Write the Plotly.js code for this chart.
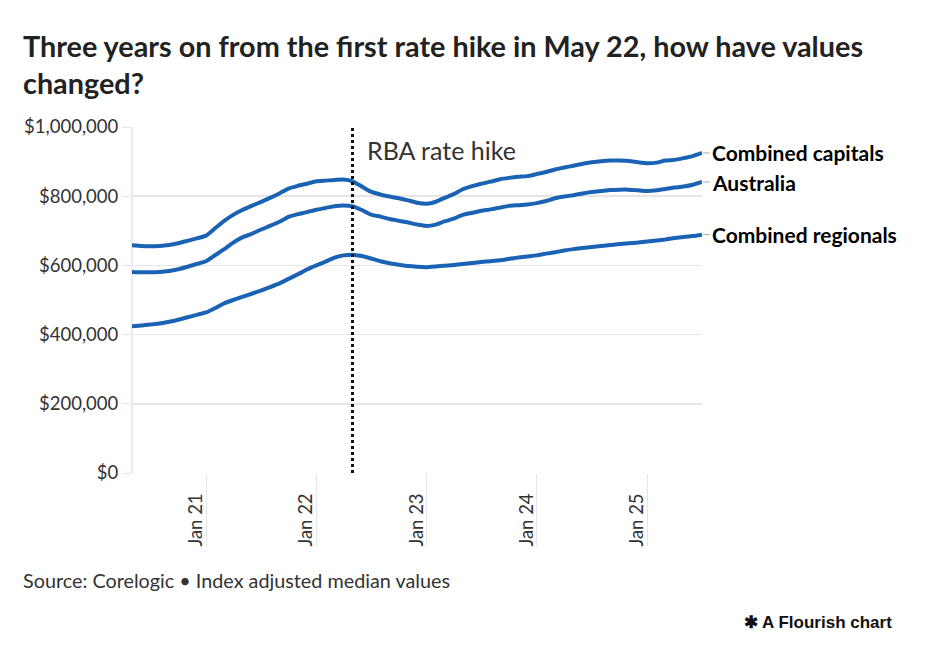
<!DOCTYPE html>
<html>
<head>
<meta charset="utf-8">
<script src="https://cdn.plot.ly/plotly-3.0.1.min.js"></script>
<style>
html,body{margin:0;padding:0;background:#fff;}
#chart{width:930px;height:646px;}
</style>
</head>
<body>
<div id="chart"></div>
<script>
// Monthly dates May 2020 – Jul 2025
const months = [
"2020-05-01","2020-06-01","2020-07-01","2020-08-01","2020-09-01","2020-10-01","2020-11-01","2020-12-01",
"2021-01-01","2021-02-01","2021-03-01","2021-04-01","2021-05-01","2021-06-01","2021-07-01","2021-08-01","2021-09-01","2021-10-01","2021-11-01","2021-12-01",
"2022-01-01","2022-02-01","2022-03-01","2022-04-01","2022-05-01","2022-06-01","2022-07-01","2022-08-01","2022-09-01","2022-10-01","2022-11-01","2022-12-01",
"2023-01-01","2023-02-01","2023-03-01","2023-04-01","2023-05-01","2023-06-01","2023-07-01","2023-08-01","2023-09-01","2023-10-01","2023-11-01","2023-12-01",
"2024-01-01","2024-02-01","2024-03-01","2024-04-01","2024-05-01","2024-06-01","2024-07-01","2024-08-01","2024-09-01","2024-10-01","2024-11-01","2024-12-01",
"2025-01-01","2025-02-01","2025-03-01","2025-04-01","2025-05-01","2025-06-01","2025-07-01"
];

// Values in $ thousands
const combinedCapitals = [
658,656,655,656,659,664,671,678,
686,708,728,746,760,772,783,795,808,822,830,836,
843,845,847,848,843,828,813,805,799,794,788,781,
778,784,795,806,820,829,836,842,849,853,856,858,
864,870,877,883,888,894,898,901,903,903,902,898,
895,897,903,905,910,916,925
];
const australia = [
581,580,580,581,584,589,596,604,
612,630,646,666,681,691,703,714,726,740,748,754,
761,766,771,773,771,760,747,741,734,729,724,718,
714,718,727,735,746,752,758,762,767,772,774,776,
780,786,794,799,803,808,812,815,818,819,819,817,
815,817,821,825,828,833,841
];
const combinedRegionals = [
424,426,429,432,437,443,450,457,
464,477,490,500,509,518,527,537,548,561,574,588,
600,611,622,629,631,627,620,612,606,602,598,596,
595,597,599,601,604,607,610,612,615,619,623,626,
629,634,638,643,647,650,653,656,659,662,664,666,
669,672,675,679,682,685,689
];

const seriesNames = ["Combined capitals","Australia","Combined regionals"];
const seriesValues = [combinedCapitals, australia, combinedRegionals];

const yTickVals = [0,200000,400000,600000,800000,1000000];
const yTickText = ["$0","$200,000","$400,000","$600,000","$800,000","$1,000,000"];
const xTickVals = ["2021-01-01","2022-01-01","2023-01-01","2024-01-01","2025-01-01"];
const xTickText = ["Jan 21","Jan 22","Jan 23","Jan 24","Jan 25"];

const rbaDate = "2022-05-01";
const rbaLabel = "RBA rate hike";

const FONT = "'Source Sans Pro', Lato, 'Noto Sans', sans-serif";
const LINE = "#1a62b4";

const traces = seriesValues.map((vals, i) => ({
  type: "scatter",
  mode: "lines",
  name: seriesNames[i],
  x: months,
  y: vals.map(v => v * 1000),
  line: {color: LINE, width: 4, shape: "spline", smoothing: 0.5},
  hoverinfo: "x+y",
  showlegend: false
}));

const lastIdx = months.length - 1;
const endLabels = seriesNames.map((n, i) => ({
  x: months[lastIdx],
  y: seriesValues[i][lastIdx] * 1000,
  xref: "x", yref: "y",
  text: "<b>" + n + "</b>",
  showarrow: true, arrowhead: 0, arrowwidth: 1, arrowcolor: "#aaaaaa",
  ax: 8, ay: 0, standoff: 1, startstandoff: 0,
  xanchor: "left", yanchor: "middle",
  font: {family: FONT, size: 21, color: "#000"}
}));

const plotW = 930 - 132 - 228, plotH = 646 - 127 - 173;

const layout = {
  width: 930, height: 646,
  paper_bgcolor: "#fff", plot_bgcolor: "#fff",
  margin: {l: 132, r: 228, t: 127, b: 173},
  font: {family: FONT, color: "#333"},
  title: {
    text: "<b>Three years on from the first rate hike in May 22, how have values<br>changed?</b>",
    x: 23/930, xanchor: "left", xref: "container",
    y: 1 - 57/646, yanchor: "top", yref: "container",
    font: {family: FONT, size: 28.8, color: "#222"}
  },
  xaxis: {
    type: "date",
    range: ["2020-05-01", "2025-07-01"],
    tickvals: xTickVals, ticktext: xTickText,
    tickangle: -90,
    ticks: "outside", ticklen: 72, tickcolor: "#e6e6e6", tickwidth: 1,
    ticklabelshift: -10, ticklabelstandoff: -60,
    showgrid: false, zeroline: false, showline: false,
    tickfont: {family: FONT, size: 18.5, color: "#333"},
    fixedrange: true
  },
  yaxis: {
    range: [0, 1000000],
    tickvals: yTickVals, ticktext: yTickText,
    ticks: "outside", ticklen: 9, tickcolor: "#e6e6e6",
    showgrid: true, gridcolor: "#e6e6e6", gridwidth: 1.5,
    zeroline: false, showline: false,
    tickfont: {family: FONT, size: 18.5, color: "#333"},
    fixedrange: true
  },
  shapes: [
    {type: "line", xref: "paper", yref: "paper", x0: 0, x1: 0, y0: 0, y1: 1,
     line: {color: "#e6e6e6", width: 1.5}, layer: "below"},
    {type: "line", xref: "x", yref: "paper", x0: rbaDate, x1: rbaDate, y0: 0, y1: 1,
     line: {color: "#111", width: 3, dash: "dot"}}
  ],
  annotations: [
    {x: rbaDate, y: 1, xref: "x", yref: "paper", text: rbaLabel, showarrow: false,
     xanchor: "left", yanchor: "top", xshift: 12, yshift: -6,
     font: {family: FONT, size: 25, color: "#333"}},
    ...endLabels,
    {x: (21 - 132) / plotW, y: (473 - 580) / plotH, xref: "paper", yref: "paper",
     xanchor: "left", yanchor: "middle",
     text: "Source: Corelogic • Index adjusted median values", showarrow: false,
     font: {family: FONT, size: 19.8, color: "#333"}},
    {x: (894 - 132) / plotW, y: (473 - 622) / plotH, xref: "paper", yref: "paper",
     xanchor: "right", yanchor: "middle",
     text: "<b>✱ A Flourish chart</b>", showarrow: false,
     font: {family: "'Liberation Sans Narrow', 'Liberation Sans', Arial, sans-serif", size: 17, color: "#111"}}
  ]
};

Plotly.newPlot("chart", traces, layout, {displayModeBar: false, staticPlot: true});
</script>
</body>
</html>
